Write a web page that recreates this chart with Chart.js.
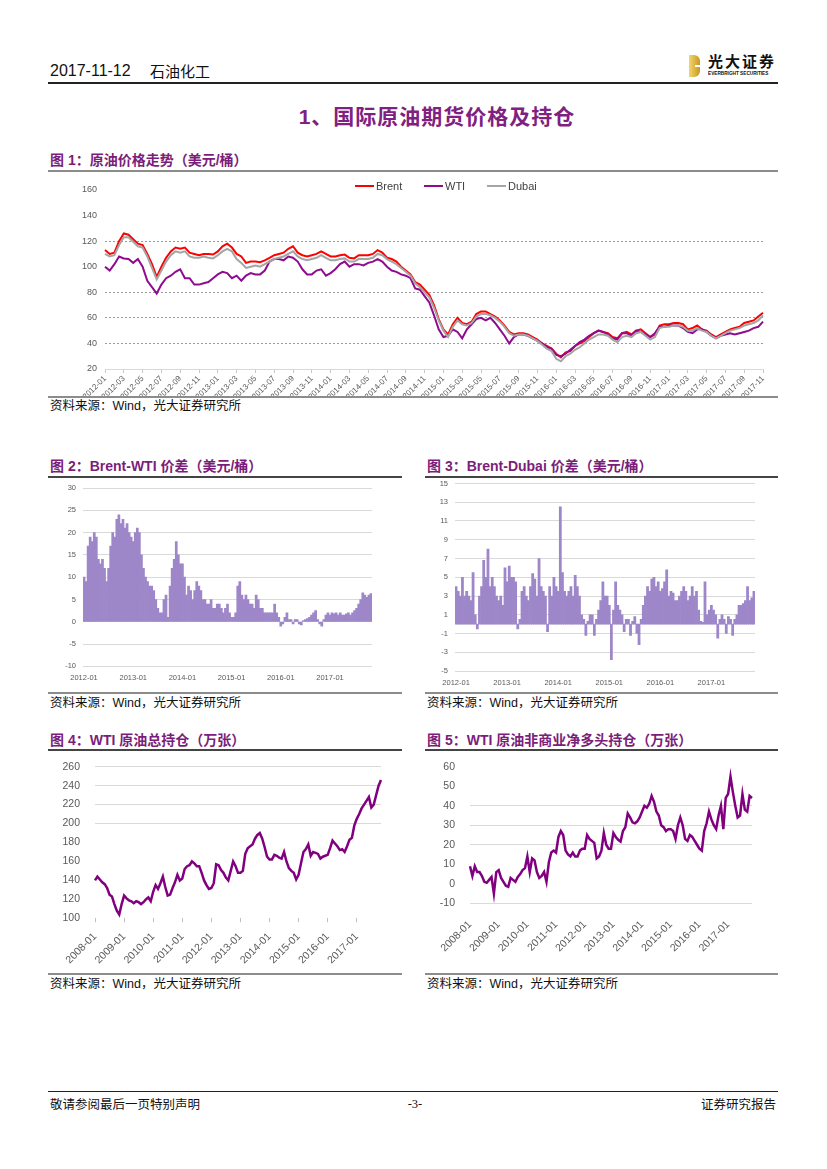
<!DOCTYPE html>
<html><head><meta charset="utf-8">
<script src="https://cdn.jsdelivr.net/npm/chart.js@4.4.0/dist/chart.umd.min.js"></script>
<style>
body{margin:0;background:#fff;}
#page{position:relative;width:827px;height:1169px;overflow:hidden;background:#fff;font-family:"Liberation Sans","Noto Sans CJK SC",sans-serif;}
.t{position:absolute;white-space:nowrap;}
.ln{position:absolute;}
.figt{position:absolute;white-space:nowrap;font-family:"Liberation Sans","Noto Sans CJK SC",sans-serif;font-weight:bold;font-size:14px;line-height:16px;color:#7B1E7A;}
.src{position:absolute;white-space:nowrap;font-family:"Liberation Sans","Noto Sans CJK SC",sans-serif;font-size:12.5px;line-height:14px;color:#111;}
canvas{position:absolute;}
.lg{position:absolute;font-family:"Liberation Sans",sans-serif;font-size:11px;line-height:12px;color:#404040;}
</style></head>
<body><div id="page">
<!-- header -->
<div class="t" style="left:50px;top:62px;font-size:16px;line-height:18px;color:#111;">2017-11-12</div>
<div class="t" style="left:150px;top:62px;font-size:15px;line-height:18px;color:#111;font-family:'Noto Sans CJK SC';">石油化工</div>
<div class="ln" style="left:689px;top:55px;width:11px;height:22px;background:linear-gradient(to right,#F3D66E,#C9981E);border-radius:0 6px 6px 0;"></div>
<div class="ln" style="left:695px;top:65px;width:5px;height:2px;background:#fff;"></div>
<div class="t" style="left:708px;top:52px;font-size:15px;line-height:17px;font-weight:bold;letter-spacing:2px;color:#111;font-family:'Noto Sans CJK SC';">光大证券</div>
<div class="t" style="left:708px;top:71px;font-size:10px;line-height:10px;font-weight:bold;color:#111;transform:scale(0.47,0.5);transform-origin:left top;">EVERBRIGHT SECURITIES</div>
<div class="ln" style="left:48px;top:82px;width:730px;height:1.5px;background:#222;"></div>
<!-- section title -->
<div class="t" style="left:23px;width:828px;text-align:center;top:104px;font-size:21px;line-height:26px;font-weight:bold;color:#80207F;letter-spacing:1px;font-family:'Liberation Sans','Noto Sans CJK SC';">1、国际原油期货价格及持仓</div>

<!-- figure 1 -->
<div class="figt" style="left:50px;top:152px;">图 1：原油价格走势（美元/桶）</div>
<div class="ln" style="left:48px;top:170px;width:730px;height:1.5px;background:#8c8c8c;"></div>
<canvas id="c1" width="730" height="224" style="left:48px;top:172px;width:730px;height:224px;"></canvas>
<div class="ln" style="left:355px;top:185px;width:19px;height:2px;background:#FF0000;"></div>
<div class="lg" style="left:376px;top:180px;">Brent</div>
<div class="ln" style="left:424px;top:185px;width:19px;height:2px;background:#8E0C8E;"></div>
<div class="lg" style="left:445px;top:180px;">WTI</div>
<div class="ln" style="left:487px;top:185px;width:19px;height:2px;background:#A5A5A5;"></div>
<div class="lg" style="left:508px;top:180px;">Dubai</div>
<div class="ln" style="left:48px;top:396px;width:730px;height:2px;background:#8c8c8c;"></div>
<div class="src" style="left:50px;top:399px;">资料来源：Wind，光大证券研究所</div>

<!-- figure 2 -->
<div class="figt" style="left:50px;top:458px;">图 2：Brent-WTI 价差（美元/桶）</div>
<div class="ln" style="left:48px;top:476px;width:354px;height:1.5px;background:#444;"></div>
<canvas id="c2" width="354" height="213" style="left:48px;top:479px;width:354px;height:213px;"></canvas>
<div class="ln" style="left:48px;top:692px;width:354px;height:2px;background:#8c8c8c;"></div>
<div class="src" style="left:50px;top:696px;">资料来源：Wind，光大证券研究所</div>

<!-- figure 3 -->
<div class="figt" style="left:427px;top:458px;">图 3：Brent-Dubai 价差（美元/桶）</div>
<div class="ln" style="left:425px;top:476px;width:353px;height:1.5px;background:#444;"></div>
<canvas id="c3" width="353" height="213" style="left:425px;top:479px;width:353px;height:213px;"></canvas>
<div class="ln" style="left:425px;top:692px;width:353px;height:2px;background:#8c8c8c;"></div>
<div class="src" style="left:427px;top:696px;">资料来源：Wind，光大证券研究所</div>

<!-- figure 4 -->
<div class="figt" style="left:50px;top:732px;">图 4：WTI 原油总持仓（万张）</div>
<div class="ln" style="left:48px;top:749px;width:354px;height:1.5px;background:#444;"></div>
<canvas id="c4" width="354" height="220" style="left:48px;top:752px;width:354px;height:220px;"></canvas>
<div class="ln" style="left:48px;top:973px;width:354px;height:2px;background:#8c8c8c;"></div>
<div class="src" style="left:50px;top:977px;">资料来源：Wind，光大证券研究所</div>

<!-- figure 5 -->
<div class="figt" style="left:427px;top:732px;">图 5：WTI 原油非商业净多头持仓（万张）</div>
<div class="ln" style="left:425px;top:749px;width:353px;height:1.5px;background:#444;"></div>
<canvas id="c5" width="353" height="220" style="left:425px;top:752px;width:353px;height:220px;"></canvas>
<div class="ln" style="left:425px;top:973px;width:353px;height:2px;background:#8c8c8c;"></div>
<div class="src" style="left:427px;top:977px;">资料来源：Wind，光大证券研究所</div>

<!-- footer -->
<div class="ln" style="left:48px;top:1091px;width:730px;height:1px;background:#222;"></div>
<div class="t" style="left:50px;top:1096px;font-size:12.5px;line-height:16px;color:#111;font-family:'Noto Sans CJK SC';">敬请参阅最后一页特别声明</div>
<div class="t" style="left:395px;width:40px;text-align:center;top:1096px;font-size:12.5px;line-height:16px;color:#111;font-family:'Liberation Serif';">-3-</div>
<div class="t" style="right:51px;top:1096px;font-size:12.5px;line-height:16px;color:#111;font-family:'Noto Sans CJK SC';">证券研究报告</div>
</div>
<script>
// ---------- data ----------
// Figure 1: semi-monthly samples, 2012-01 .. 2017-11 (USD/bbl)
const tickLabels1 = ['2012-01','2012-03','2012-05','2012-07','2012-09','2012-11',
 '2013-01','2013-03','2013-05','2013-07','2013-09','2013-11',
 '2014-01','2014-03','2014-05','2014-07','2014-09','2014-11',
 '2015-01','2015-03','2015-05','2015-07','2015-09','2015-11',
 '2016-01','2016-03','2016-05','2016-07','2016-09','2016-11',
 '2017-01','2017-03','2017-05','2017-07','2017-09','2017-11'];
const brent = [113,110,111,120,126,125,121.5,118,117,110,102,92,100,107,112,115,114,115,111,110,109,110,110,109.5,112,116,118,115,110,108,103,104,104,103.5,105,107,109,110,111,114,116,111,109,108,109,110,112,110,
 108,108,109,109.5,107,106.5,109,109,109,110,113,111,107,106,104,100,97,94,88,86,82,78,70,59,51,47,55,60,56,55,57,63,65,65,63,61,58,54,49,47,48,48,47,45,43,40,38,36,
 32,29,33,34,38,40,42,45,48,50,49,48,45,44,48,49,47,50,51,48,45,47,54,55,55,56,56,55,51,52,54,51,50,47,45,47,49,51,52,53,56,57,58,61,64];
const wti = [100,97,102,108,106.5,106,103,106,100,89,84,79,86,91,93,96,98,91,91,86,86,87,88,91,94,96,95,91,93,89,93,95,94,94,97,104,106,106,105,108,107,104,98,94,94,97,98,93,
 95,98,102,104,100,102,102,101,103,104,106,104,100,97,96,94,93,91,83,82,77,72,62,51,45,46,51,49,44,51,55,59,60,58,60,56,51,46,40,45,47,47,46,44,42,40,37,36,
 31,30,32,35,38,41,43,46,48,50,49,47,44,43,48,48,46,50,49,47,45,48,53,53,54,54,54,52,49,48,51,51,49,46,44,46,47,48,47,48,49,50,52,53,57];
const dubai = [110,108,109,117,123,123,119.5,116,115,108,99,90,97,104,109,112,111,112,108,107,107,108,107,106.5,109,112,114,112,106,103,99,100,101,100,102,104,106,107,108,110,112,108,106,105,106,107,109,107,
 105,105,106,106.5,104,104,106,106,106,107,110,109,106,104,102,99,96,93,87,84,80,76,68,58,50,45,53,58,55,54,56,61,63,63,62,60,57,53,48,46,47,47,46,44,42,39,36,34,
 28,26,30,32,35,37,40,43,45,47,47,46,43,41,45,46,45,48,49,46,43,45,52,53,53,54,54,53,50,50,52,50,49,46,44,46,48,50,51,52,54,55,56,58,62];

// Figures 2 & 3: spreads, semi-monthly samples 2012-01 .. 2017-11
const tickLabels23 = ['2012-01','2013-01','2014-01','2015-01','2016-01','2017-01'];
const spreadBW = [10,9,17,19,18,20,19,14,13,14,12,9,12,17,20,19,23,24,22,23,21,22,20,19,18,20,21,20,15,12,10,9,8,8,7,5,3,2,2,5,6,1,8,12,14,18,15,13,
 13,10,6,8,7,5,7,9,8,7,5,5,4,4,5,3,3,4,4,3,2,3,4,2,1,1,2,8,9,6,5,6,5,4,4,3,6,5,3,3,2,2,2,2,2,4,2,1,
 -1,-0.5,1,2,0.5,0.5,-0.5,0.5,0.5,-0.5,-0.7,0.3,0.5,0.7,1,1.5,2,2.5,0.5,-0.5,-1,0.5,1.5,2,1.5,2,1.8,2,1.5,2,1.5,1.5,1.8,2,1.5,2,2.5,3,4,5,6.5,6,5.5,6,6.3];
const spreadBD = [4,3.5,3,5,3,3.5,3,2.5,5.5,1,-0.5,3,4,6.8,5,8,4,5,4,3,2.5,3,2,6,4.5,6.2,5,5,4.5,-0.5,0.5,3.5,4,3,2.5,4,5.4,4.8,3,7,4,3.5,3,-0.8,4,3,5,4,
 3.5,12.5,5.5,3.5,3,3.5,4,3,5.2,4,3,1,0.5,-1.2,0.3,1,1,-1.2,0.5,1.5,2.5,4.5,3,3,2,-3.8,1.5,4.5,2,1.5,1,-0.8,0.5,0.5,-1.2,0.3,0.8,-1,-2.2,0.5,2,3,4,3.5,4.8,5,4,4.5,
 3.5,3.8,4.5,5.8,3,3.5,3.3,2.5,2.5,3,3.5,4,3.5,2.5,3,4,3,3.5,1.5,0.3,0.2,4.5,1,1.5,2,1.5,1,-1.5,0.5,1,0.5,-1,0.8,0.5,-1.2,0.5,1,2,2,2.2,2.5,4,2.5,2.8,3.5];

// Figures 4 & 5: monthly samples 2008-01 .. 2017-11 (10k contracts)
const tickLabels45 = ['2008-01','2009-01','2010-01','2011-01','2012-01','2013-01','2014-01','2015-01','2016-01','2017-01'];
const openInterest = [140,144,141,138,136,132,125,123,115,108,104,115,
 124,121,119,118,116,118,117,115,117,120,122,118,
 128,135,131,137,144,133,124,125,132,138,146,140,
 142,152,155,156,160,158,155,155,148,140,135,131,
 132,137,157,156,151,148,143,140,150,160,155,148,
 148,150,168,174,176,178,184,188,190,184,175,165,
 162,162,167,166,164,163,170,160,153,150,148,141,
 146,158,170,173,178,166,170,169,168,163,165,166,
 167,174,182,179,176,172,173,170,176,183,185,198,
 205,210,216,220,224,228,217,220,230,240,246];
const netLong = [9,4,9,6,6,4,1,0.5,2,3.5,-5,6,
 7,3,1,-1,-1.5,3,2,1,3.5,5,7,8,
 14,6,13,12,6,3,4,6,1,11,16,17,
 16,24,27,25,17,15,14,16,14,14,17,18,
 18,25,23,22,21,13,14,17,26,20,18,18,
 26,24,22.5,21.6,27,29,36,34,31.5,31,32,34,
 37,40,39,41,45,42,37,35,30,29,27,28,
 28,27,23,30,34,30,23,22,25,24,22,20,
 18,17,27,31,37,33,30,28,35,40,28,44,
 46,55,47,40,34,35,46,38,37,45,44];

// ---------- charts ----------
Chart.defaults.font.family = '"Liberation Sans", Arial, sans-serif';
Chart.defaults.color = '#595959';
Chart.defaults.animation = false;
Chart.defaults.plugins.legend.display = false;
Chart.defaults.plugins.tooltip.enabled = false;

const lbl1 = brent.map((_, i) => i % 4 === 0 ? tickLabels1[i / 4] : '');
const lbl23 = spreadBW.map((_, i) => i % 24 === 0 ? tickLabels23[i / 24] : '');
const lbl45 = openInterest.map((_, i) => i % 12 === 0 ? tickLabels45[i / 12] : '');

const line = (label, data, color, w, order) => ({label, data, borderColor: color, backgroundColor: color, borderWidth: w, pointRadius: 0, tension: 0, order});
const fixY = w => s => { s.width = w; s.paddingTop = 0; s.paddingBottom = 0; };
const fixX = h => s => { s.height = h; s.paddingLeft = 0; s.paddingRight = 0; };

new Chart(document.getElementById('c1'), {
  type: 'line',
  data: {labels: lbl1, datasets: [
    line('Brent', brent, '#FF0000', 2, 3),
    line('WTI', wti, '#8E0C8E', 2, 2),
    line('Dubai', dubai, '#A5A5A5', 2, 1)]},
  options: {
    responsive: false,
    layout: {padding: {top: 18, right: 15, left: 0, bottom: 0}},
    scales: {
      x: {
        grid: {drawOnChartArea: false, tickLength: 4, tickColor: c => (c.index % 4 === 0 ? '#C8C8C8' : 'rgba(0,0,0,0)')},
        border: {color: '#D9D9D9'},
        ticks: {autoSkip: false, minRotation: 45, maxRotation: 45, font: {size: 8}, padding: 1, callback: (v, i) => lbl1[i]},
        afterFit: fixX(27)
      },
      y: {
        min: 20, max: 160,
        ticks: {stepSize: 20, font: {size: 9}, padding: 8},
        grid: {drawTicks: false, color: c => ([40, 60, 80, 120].includes(c.tick.value) ? '#9A9A9A' : 'rgba(0,0,0,0)')},
        border: {display: false, dash: [2, 2]},
        afterFit: fixY(57)
      }
    }
  }
});

function spreadChart(id, data, min, max, step, pad, yw, xh) {
  new Chart(document.getElementById(id), {
    type: 'bar',
    data: {labels: lbl23, datasets: [{data, backgroundColor: '#9E87C9', borderWidth: 0, barPercentage: 1, categoryPercentage: 1}]},
    options: {
      responsive: false,
      layout: {padding: pad},
      scales: {
        x: {
          grid: {display: false, drawTicks: false}, border: {display: false},
          ticks: {autoSkip: false, minRotation: 0, maxRotation: 0, font: {size: 7.5}, padding: 7, callback: (v, i) => lbl23[i]},
          afterFit: fixX(xh)
        },
        y: {
          min, max,
          ticks: {stepSize: step, font: {size: 7.5}, padding: 7},
          grid: {color: '#D9D9D9', drawTicks: false},
          border: {display: false},
          afterFit: fixY(yw)
        }
      }
    }
  });
}
spreadChart('c2', spreadBW, -10, 30, 5, {top: 9, right: 30, left: 0, bottom: 0}, 35, 25.6);
spreadChart('c3', spreadBD, -5, 15, 2, {top: 4.5, right: 23, left: 0, bottom: 0}, 30, 21);

function posChart(id, data, min, max, step, pad, yw, xh, gridFn, ticksOn, tpad) {
  new Chart(document.getElementById(id), {
    type: 'line',
    data: {labels: lbl45, datasets: [line('', data, '#800080', 2.5, 1)]},
    options: {
      responsive: false,
      layout: {padding: pad},
      scales: {
        x: {
          grid: {drawOnChartArea: false, drawTicks: ticksOn, tickLength: 4, tickColor: c => (c.index % 12 === 0 ? '#BFBFBF' : 'rgba(0,0,0,0)')},
          border: {display: false},
          ticks: {autoSkip: false, minRotation: 45, maxRotation: 45, font: {size: 10.5}, padding: tpad, callback: (v, i) => lbl45[i]},
          afterFit: fixX(xh)
        },
        y: {
          min, max,
          ticks: {stepSize: step, font: {size: 10.5}, padding: 15},
          grid: {drawTicks: false, color: gridFn},
          border: {display: false},
          afterFit: fixY(yw)
        }
      }
    }
  });
}
posChart('c4', openInterest, 100, 260, 20, {top: 14.7, right: 21, left: 0, bottom: 0}, 47, 53.7,
  c => (c.tick.value >= 200 ? '#D9D9D9' : 'rgba(0,0,0,0)'), true, 8);
posChart('c5', netLong, -10, 60, 10, {top: 14.7, right: 26, left: 0, bottom: 0}, 45, 68.7,
  c => ([40, 30, 20, -10].includes(c.tick.value) ? '#D9D9D9' : 'rgba(0,0,0,0)'), false, 15);
</script>
</body></html>
